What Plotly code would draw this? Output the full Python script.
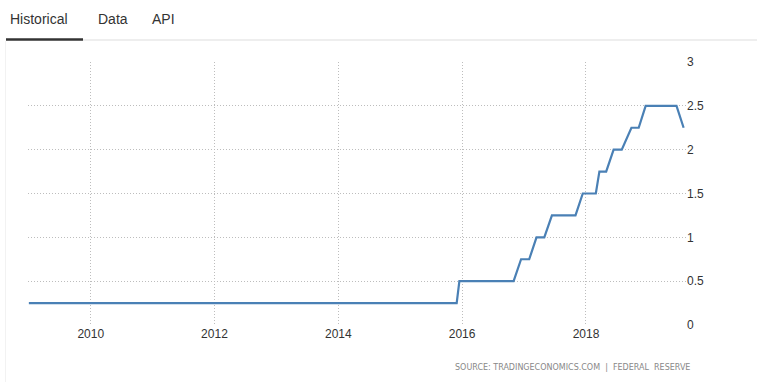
import plotly.graph_objects as go

# Data (Fed funds rate, %)
dates = ["2009-01-01", "2015-11-30", "2015-12-16", "2016-10-31", "2016-12-14",
         "2017-01-31", "2017-03-15", "2017-04-30", "2017-06-14", "2017-10-31",
         "2017-12-13", "2018-02-28", "2018-03-21", "2018-04-30", "2018-06-13",
         "2018-07-31", "2018-09-26", "2018-11-08", "2018-12-19", "2019-06-19",
         "2019-07-31"]
rates = [0.25, 0.25, 0.5, 0.5, 0.75,
         0.75, 1.0, 1.0, 1.25, 1.25,
         1.5, 1.5, 1.75, 1.75, 2.0,
         2.0, 2.25, 2.25, 2.5, 2.5,
         2.25]
y_ticks = [0, 0.5, 1, 1.5, 2, 2.5, 3]
tabs = ["Historical", "Data", "API"]
source_text = "SOURCE: TRADINGECONOMICS.COM  |  FEDERAL  RESERVE"

W, H = 757, 382
L, R, T, B = 28, 686, 62, 325


def px(x):
    return (x - L) / (R - L)


def py(y):
    return (B - y) / (B - T)


fig = go.Figure()
fig.add_trace(go.Scatter(x=dates, y=rates, mode="lines",
                         line=dict(color="#4a80b5", width=2.2),
                         hoverinfo="skip", showlegend=False))

grid = dict(showgrid=True, gridcolor="#bdbdbd", griddash="1px,2px", gridwidth=1)

fig.update_layout(
    width=W, height=H,
    margin=dict(l=L, r=W - R, t=T, b=H - B),
    paper_bgcolor="white", plot_bgcolor="white",
    font=dict(family="Liberation Sans, Arial, sans-serif", color="#333", size=12),
    xaxis=dict(type="date", range=["2008-12-27", "2019-08-14"],
               tick0="2010-01-01", dtick="M24", tickformat="%Y",
               showline=False, zeroline=False, ticks="", ticklen=0,
               tickfont=dict(size=12, color="#333"), **grid),
    yaxis=dict(range=[0, 3], side="right", tickvals=y_ticks,
               showline=False, zeroline=False, ticks="",
               tickfont=dict(size=12, color="#333"), **grid),
)

# Tabs
tab_x = [8, 96, 150]
for t, x in zip(tabs, tab_x):
    fig.add_annotation(text=t, x=px(x), y=py(19), xref="paper", yref="paper",
                       xanchor="left", yanchor="middle", showarrow=False,
                       font=dict(size=14, color="#333",
                                 family="Liberation Sans, Arial, sans-serif"))

# Tab underline and separator
fig.add_shape(type="line", xref="paper", yref="paper",
              x0=px(83), x1=px(757), y0=py(40), y1=py(40),
              line=dict(color="#dddddd", width=1))
fig.add_shape(type="line", xref="paper", yref="paper",
              x0=px(6), x1=px(83), y0=py(39.5), y1=py(39.5),
              line=dict(color="#333333", width=2.5))
# Faint left border
fig.add_shape(type="line", xref="paper", yref="paper",
              x0=px(5.5), x1=px(5.5), y0=py(41), y1=py(382),
              line=dict(color="#f2f2f2", width=1))

# Source
fig.add_annotation(text=source_text, x=px(692), y=py(367), xref="paper", yref="paper",
                   xanchor="right", yanchor="middle", showarrow=False,
                   font=dict(size=8, color="#888",
                             family="DejaVu Sans, sans-serif"))

fig.write_html("out.html")
